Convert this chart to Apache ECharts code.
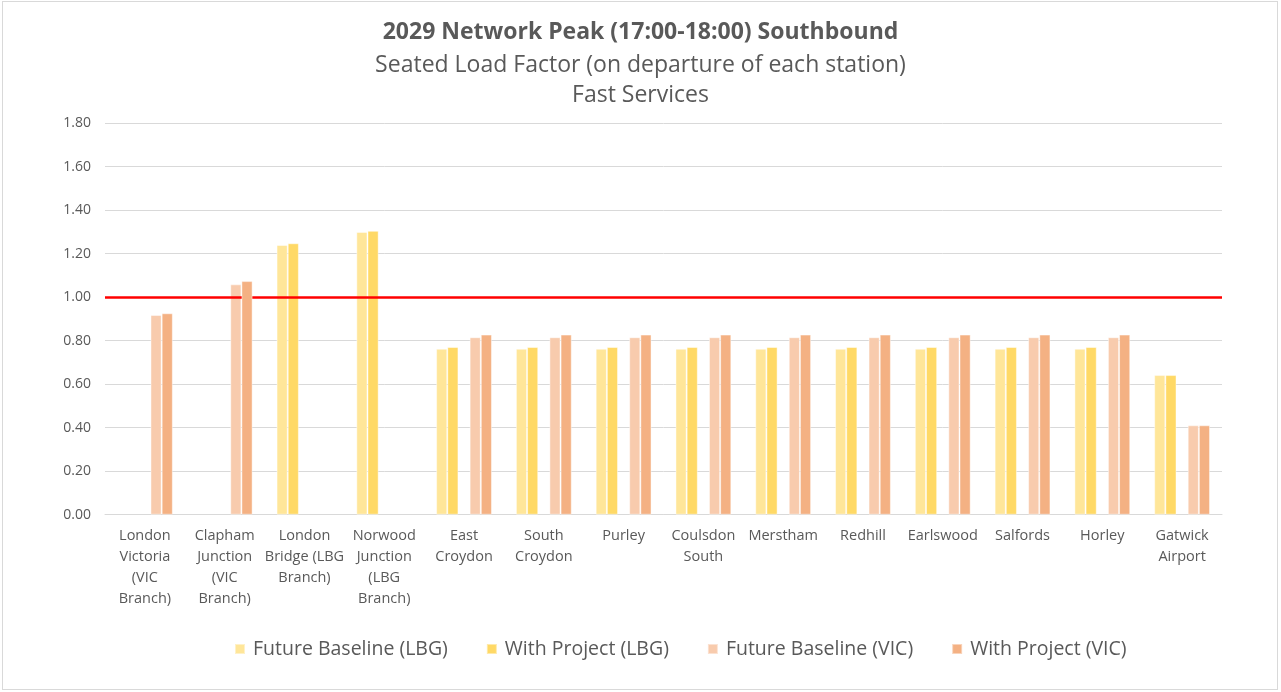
<!DOCTYPE html>
<html>
<head>
<meta charset="utf-8">
<script src="https://cdn.jsdelivr.net/npm/echarts@6/dist/echarts.min.js"></script>
<style>
  html, body { margin: 0; padding: 0; background: #fff; }
  #frame { position: absolute; left: 2px; top: 1px; width: 1276px; height: 689px; border: 1px solid #d9d9d9; box-sizing: border-box; }
  #chart { position: absolute; left: 0; top: 0; width: 1281px; height: 692px; }
</style>
</head>
<body>
<div id="frame"></div>
<div id="chart"></div>
<script>
const categories = [
  "London\nVictoria\n(VIC\nBranch)",
  "Clapham\nJunction\n(VIC\nBranch)",
  "London\nBridge (LBG\nBranch)",
  "Norwood\nJunction\n(LBG\nBranch)",
  "East\nCroydon",
  "South\nCroydon",
  "Purley",
  "Coulsdon\nSouth",
  "Merstham",
  "Redhill",
  "Earlswood",
  "Salfords",
  "Horley",
  "Gatwick\nAirport"
];
const seriesNames = ["Future Baseline (LBG)", "With Project (LBG)", "Future Baseline (VIC)", "With Project (VIC)"];
const futureBaselineLBG = [null, null, 1.24, 1.30, 0.763, 0.763, 0.763, 0.763, 0.763, 0.763, 0.763, 0.763, 0.763, 0.642];
const withProjectLBG    = [null, null, 1.248, 1.305, 0.771, 0.771, 0.771, 0.771, 0.771, 0.771, 0.771, 0.771, 0.771, 0.642];
const futureBaselineVIC = [0.918, 1.059, null, null, 0.816, 0.816, 0.816, 0.816, 0.816, 0.816, 0.816, 0.816, 0.816, 0.411];
const withProjectVIC    = [0.926, 1.074, null, null, 0.828, 0.828, 0.828, 0.828, 0.828, 0.828, 0.828, 0.828, 0.828, 0.411];
const threshold = 1.0;
const yTicks = { min: 0, max: 1.8, interval: 0.2 };

const colors = ["#FFE699", "#FFD966", "#F8CBAD", "#F4B183"];
const font = "'Open Sans', 'Noto Sans', sans-serif";
const chart = echarts.init(document.getElementById('chart'));

function barSeries(name, data, color) {
  return {
    name: name, type: 'bar', data: data,
    barGap: '0%', barCategoryGap: '30%',
    itemStyle: { color: color, borderColor: 'rgba(255,255,255,0.45)', borderWidth: 1 },
    emphasis: { disabled: true }
  };
}

const series = [
  barSeries(seriesNames[0], futureBaselineLBG, colors[0]),
  barSeries(seriesNames[1], withProjectLBG, colors[1]),
  { name: '_gap', type: 'bar', data: categories.map(() => null), barGap: '0%', barCategoryGap: '30%', silent: true },
  barSeries(seriesNames[2], futureBaselineVIC, colors[2]),
  barSeries(seriesNames[3], withProjectVIC, colors[3])
];
series[4].markLine = {
  silent: true, symbol: 'none', label: { show: false },
  lineStyle: { color: '#FF0000', width: 2.5, type: 'solid' },
  data: [{ yAxis: threshold }]
};
series[4].z = 5;

chart.setOption({
  animation: false,
  textStyle: { fontFamily: font },
  title: [
    { text: '2029 Network Peak (17:00-18:00) Southbound', left: 'center', top: 16,
      textStyle: { fontFamily: font, fontSize: 23, fontWeight: 'bold', color: '#595959' } },
    { text: 'Seated Load Factor (on departure of each station)', left: 'center', top: 49,
      textStyle: { fontFamily: font, fontSize: 23, fontWeight: 'normal', color: '#595959' } },
    { text: 'Fast Services', left: 'center', top: 79,
      textStyle: { fontFamily: font, fontSize: 23, fontWeight: 'normal', color: '#595959' } }
  ],
  legend: {
    data: seriesNames, bottom: 28, left: 229,
    itemWidth: 10, itemHeight: 10, itemGap: 38, icon: 'rect',
    textStyle: { fontFamily: font, fontSize: 19.5, color: '#595959', padding: [0, 0, 0, 3] }
  },
  grid: { left: 105, right: 59, top: 123.2, bottom: 177.3, containLabel: false },
  xAxis: {
    type: 'category', data: categories,
    axisLine: { lineStyle: { color: '#d9d9d9' } },
    axisTick: { show: false },
    axisLabel: { interval: 0, color: '#595959', fontSize: 14.5, lineHeight: 21, margin: 11, fontFamily: font }
  },
  yAxis: {
    type: 'value', min: yTicks.min, max: yTicks.max, interval: yTicks.interval,
    axisLine: { show: false }, axisTick: { show: false },
    axisLabel: { color: '#595959', fontSize: 14, margin: 14, fontFamily: font, formatter: v => v.toFixed(2) },
    splitLine: { lineStyle: { color: '#d9d9d9', width: 1 } }
  },
  series: series
});
</script>
</body>
</html>
